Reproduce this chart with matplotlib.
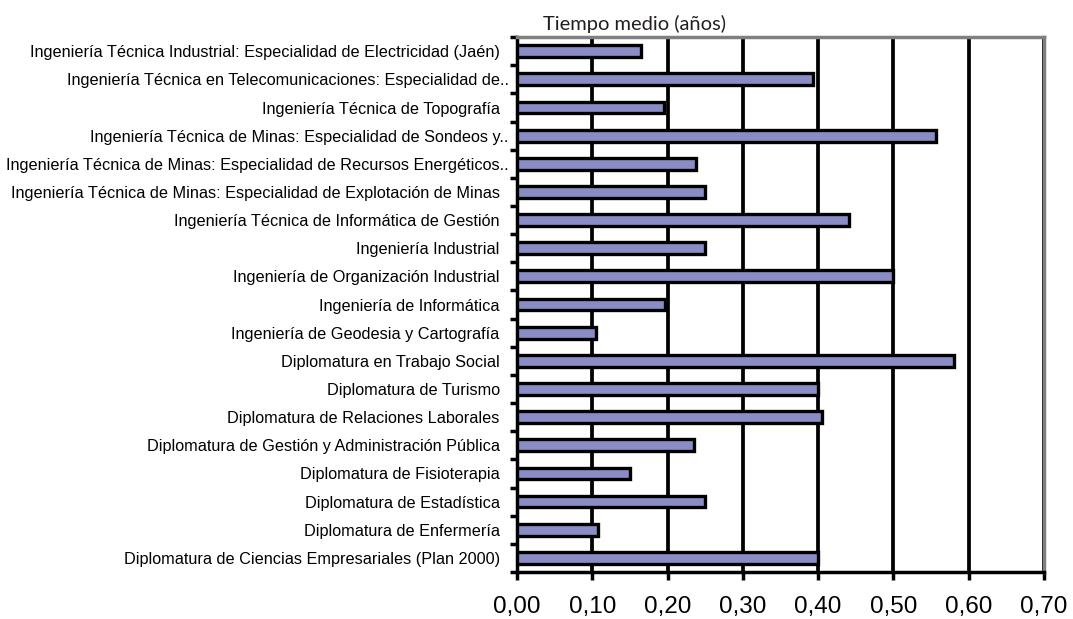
import matplotlib.pyplot as plt

# categories, top to bottom as in the chart
titulaciones = [
    "Ingeniería Técnica Industrial: Especialidad de Electricidad (Jaén)  ",
    "Ingeniería Técnica en Telecomunicaciones: Especialidad de..",
    "Ingeniería Técnica de Topografía  ",
    "Ingeniería Técnica de Minas: Especialidad de Sondeos y..",
    "Ingeniería Técnica de Minas: Especialidad de Recursos Energéticos..",
    "Ingeniería Técnica de Minas: Especialidad de Explotación de Minas  ",
    "Ingeniería Técnica de Informática de Gestión  ",
    "Ingeniería Industrial  ",
    "Ingeniería de Organización Industrial  ",
    "Ingeniería de Informática  ",
    "Ingeniería de Geodesia y Cartografía  ",
    "Diplomatura en Trabajo Social  ",
    "Diplomatura de Turismo  ",
    "Diplomatura de Relaciones Laborales  ",
    "Diplomatura de Gestión y Administración Pública  ",
    "Diplomatura de Fisioterapia  ",
    "Diplomatura de Estadística  ",
    "Diplomatura de Enfermería  ",
    "Diplomatura de Ciencias Empresariales (Plan 2000)  ",
]
tiempo_medio = [0.165, 0.393, 0.195, 0.557, 0.238, 0.250, 0.441, 0.250, 0.500,
                0.197, 0.105, 0.581, 0.400, 0.405, 0.235, 0.150, 0.250, 0.108, 0.400]
x_ticks = [0.0, 0.1, 0.2, 0.3, 0.4, 0.5, 0.6, 0.7]
x_labels = ["0,00", "0,10", "0,20", "0,30", "0,40", "0,50", "0,60", "0,70"]
titulo = "Tiempo medio (años)"

fig = plt.figure(figsize=(10.73, 6.19), dpi=100)
ax = fig.add_axes([0.4818, 0.076, 0.4912, 0.864])

n = len(titulaciones)
pos = list(range(n))
ax.barh(pos, tiempo_medio, height=0.42, color="#8a8cc6", edgecolor="black",
        linewidth=2.4, zorder=3)

ax.set_xlim(0, 0.7)
ax.set_ylim(n - 0.5, -0.5)

ax.set_xticks(x_ticks)
ax.set_xticklabels(x_labels, family="Liberation Sans", fontsize=17.5)
ax.tick_params(axis="x", direction="out", length=6, width=2.5, pad=11)

# category ticks sit between categories, labels at the centres
ax.set_yticks([i - 0.5 for i in range(n + 1)])
ax.set_yticklabels([])
ax.tick_params(axis="y", which="major", direction="out", length=5, width=2.5)
ax.set_yticks(pos, minor=True)
ax.set_yticklabels(titulaciones, minor=True, family="Liberation Sans", fontsize=11.7)
ax.tick_params(axis="y", which="minor", length=0, pad=6)

ax.grid(axis="x", color="black", linewidth=2.7, zorder=1)
ax.set_axisbelow(True)

ax.spines["left"].set_linewidth(2.5)
ax.spines["bottom"].set_linewidth(2.5)
ax.spines["top"].set_color("#808080")
ax.spines["right"].set_color("#808080")
ax.spines["top"].set_linewidth(2.5)
ax.spines["right"].set_linewidth(2.5)

fig.text(0.5065, 0.951, titulo, ha="left", va="baseline", family="Lato", fontsize=14.5,
         color="#231f20")

fig.savefig("out.png", dpi=100)
